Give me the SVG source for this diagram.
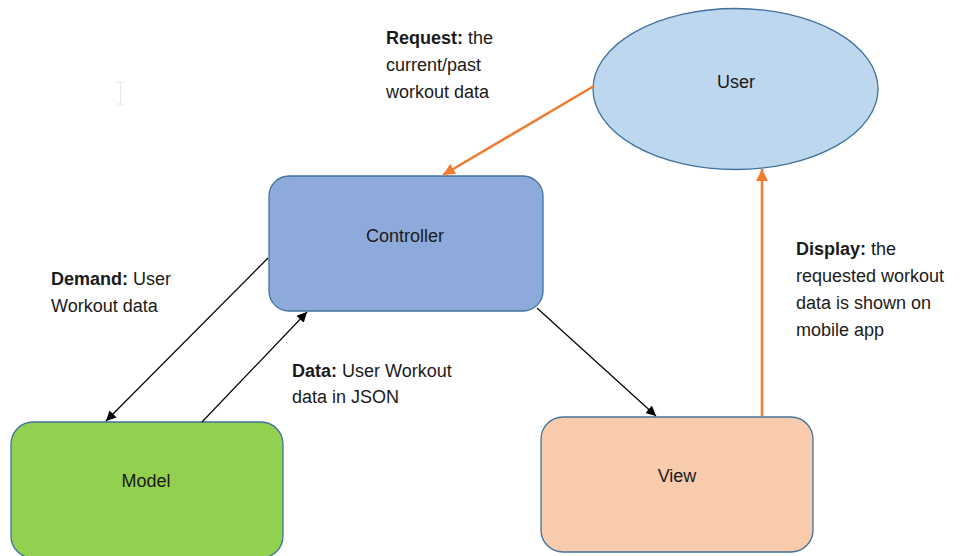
<svg xmlns="http://www.w3.org/2000/svg" width="960" height="556" viewBox="0 0 960 556">
  <style>
    text { font-family: "Liberation Sans", Arial, sans-serif; font-size: 18px; fill: #1a1a1a; }
    .b { font-weight: bold; }
    .mid { text-anchor: middle; }
    .node { stroke: #41719C; stroke-width: 1.3; }
    .dark { stroke: #000; stroke-width: 1.2; fill: none; }
    .orange { stroke: #ED7D31; stroke-width: 2.6; fill: none; }
  </style>
  <defs>
    <marker id="headDark" viewBox="0 0 10 10" refX="10" refY="5" markerWidth="10" markerHeight="10" markerUnits="userSpaceOnUse" orient="auto">
      <path d="M0,0 L10,5 L0,10 Z" fill="#000"/>
    </marker>
    <marker id="headOrange" viewBox="0 0 10 10" refX="10" refY="5" markerWidth="12" markerHeight="12" markerUnits="userSpaceOnUse" orient="auto">
      <path d="M0,0 L10,5 L0,10 Z" fill="#ED7D31"/>
    </marker>
  </defs>

  <rect width="960" height="556" fill="#fff"/>

  <!-- text cursor -->
  <path d="M117,82 H124 M120.5,82 V104 M117,104 H124" stroke="#e6e6e6" stroke-width="1" fill="none"/>

  <g id="user">
    <ellipse class="node" cx="735.5" cy="89" rx="142.5" ry="80.5" fill="#BDD7EE"/>
    <text class="mid" x="736" y="88">User</text>
  </g>

  <g id="controller">
    <rect class="node" x="269" y="176" width="274" height="135" rx="20" fill="#8EAADB"/>
    <text class="mid" x="405" y="242">Controller</text>
  </g>

  <g id="model">
    <rect class="node" x="11" y="422" width="272" height="136" rx="22" fill="#92D050"/>
    <text class="mid" x="146" y="487">Model</text>
  </g>

  <g id="view">
    <rect class="node" x="541" y="417" width="272" height="135" rx="22" fill="#F8CBAD"/>
    <text class="mid" x="677" y="482">View</text>
  </g>

  <g id="connectors">
    <line class="orange" x1="594" y1="86" x2="443" y2="175" marker-end="url(#headOrange)"/>
    <line class="orange" x1="762" y1="416" x2="762" y2="169" marker-end="url(#headOrange)"/>
    <line class="dark" x1="268" y1="258" x2="106" y2="421" marker-end="url(#headDark)"/>
    <line class="dark" x1="202" y1="422" x2="307" y2="312" marker-end="url(#headDark)"/>
    <line class="dark" x1="537" y1="308" x2="656" y2="416" marker-end="url(#headDark)"/>
  </g>

  <g id="labels">
    <text x="386" y="44"><tspan class="b">Request:</tspan> the</text>
    <text x="386" y="71">current/past</text>
    <text x="386" y="98">workout data</text>

    <text x="51" y="285"><tspan class="b">Demand:</tspan> User</text>
    <text x="51" y="312">Workout data</text>

    <text x="292" y="377"><tspan class="b">Data:</tspan> User Workout</text>
    <text x="292" y="403">data in JSON</text>

    <text x="796" y="255"><tspan class="b">Display:</tspan> the</text>
    <text x="796" y="282">requested workout</text>
    <text x="796" y="309">data is shown on</text>
    <text x="796" y="336">mobile app</text>
  </g>
</svg>
